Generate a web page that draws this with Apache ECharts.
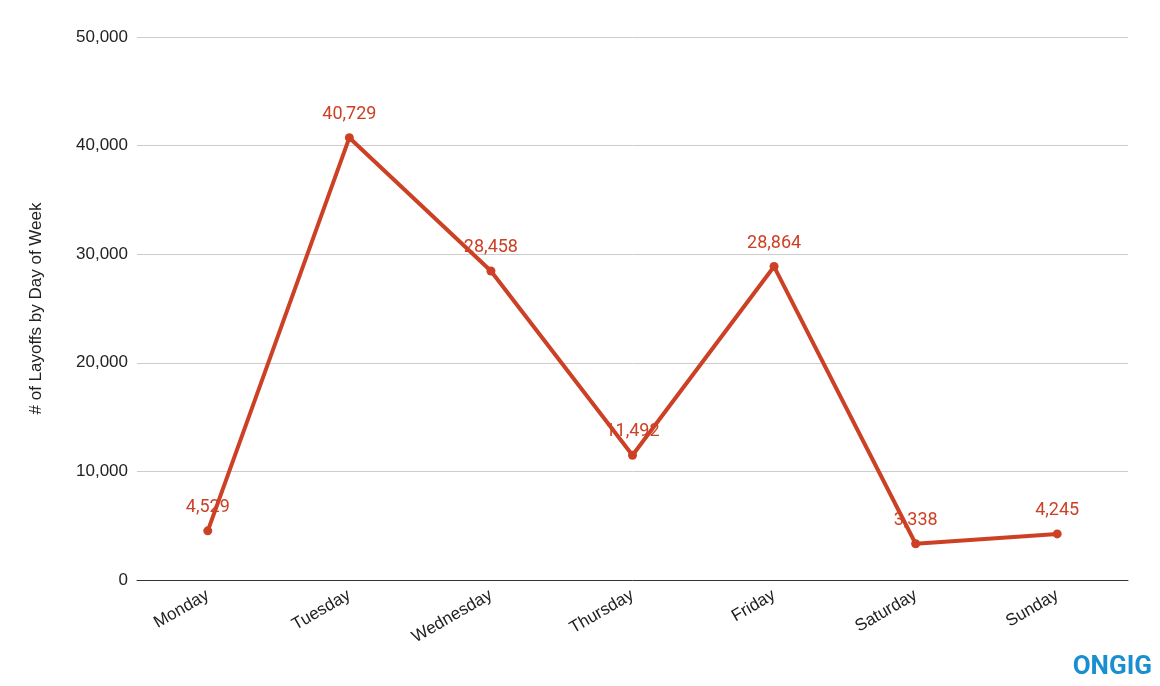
<!DOCTYPE html>
<html><head><meta charset="utf-8">
<script src="https://cdn.jsdelivr.net/npm/echarts@6/dist/echarts.min.js"></script>
<style>html,body{margin:0;padding:0;background:#fff}#c{width:1160px;height:686px}</style>
</head><body><div id="c"></div>
<script>
const categories = ['Monday','Tuesday','Wednesday','Thursday','Friday','Saturday','Sunday'];
const layoffs = [4529, 40729, 28458, 11492, 28864, 3338, 4245];
const axisFont = 'Liberation Sans, Arial, sans-serif';
const chart = echarts.init(document.getElementById('c'));
chart.setOption({
  animation: false,
  grid: {left: 137, right: 32, top: 37, bottom: 106},
  xAxis: {
    type: 'category', data: categories, boundaryGap: true,
    axisLine: {lineStyle: {color: '#333', width: 1}},
    axisTick: {show: false},
    axisLabel: {rotate: 30, color: '#222', fontSize: 17, fontFamily: axisFont, margin: 14}
  },
  yAxis: {
    type: 'value', min: 0, max: 50000, interval: 10000,
    name: '# of Layoffs by Day of Week', nameLocation: 'middle', nameGap: 92,
    nameTextStyle: {color: '#222', fontSize: 17, fontFamily: axisFont},
    axisLine: {show: false}, axisTick: {show: false},
    splitLine: {lineStyle: {color: '#ccc'}},
    axisLabel: {color: '#222', fontSize: 17, fontFamily: axisFont, margin: 9,
      formatter: v => v.toLocaleString('en-US')}
  },
  series: [{
    type: 'line', data: layoffs,
    lineStyle: {color: '#cc4125', width: 4},
    itemStyle: {color: '#cc4125'},
    symbol: 'circle', symbolSize: 9,
    label: {show: true, position: 'top', distance: 10, color: '#cc4125', fontSize: 18, fontFamily: 'Roboto',
      formatter: p => p.value.toLocaleString('en-US')}
  }],
  graphic: [{type: 'text', right: 8, bottom: 6, style: {text: 'ONGIG', fill: '#1a8fd0', font: 'bold 26px Roboto'}}]
});
</script></body></html>
